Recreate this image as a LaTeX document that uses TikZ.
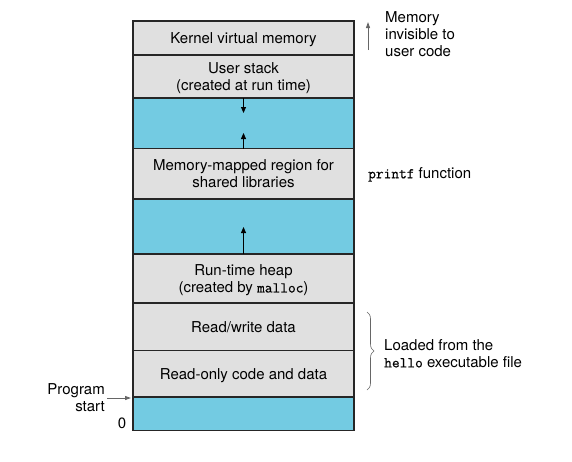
\documentclass[tikz,border=0pt]{standalone}
\usepackage{fontspec}
\setmainfont{TeX Gyre Heros}
\setmonofont{Latin Modern Mono}[FakeBold=0.6]
\usepackage{xcolor}
\usetikzlibrary{arrows.meta,decorations.pathreplacing}

\definecolor{memgray}{HTML}{E0E0E0}
\definecolor{memblue}{HTML}{73CBE2}

\tikzset{
  region/.style={draw=black!85, line width=1.8pt, fill=memgray, minimum width=221pt,
    inner sep=0pt, outer sep=0pt, align=center, text depth=0pt, font=\fontsize{15}{17}\selectfont},
  gap/.style={region, fill=memblue},
  growth/.style={-{Triangle[length=6pt,width=5pt]}, line width=0.8pt, black},
  note/.style={font=\fontsize{15}{17}\selectfont, inner sep=0pt},
  pointer/.style={-{Triangle[length=6pt,width=4pt]}, line width=0.9pt, black!60}
}

\begin{document}
\begin{tikzpicture}[x=1pt, y=-1pt]
            \useasboundingbox (0,0) rectangle (572,461);

            % address space, top to bottom
            \node[region, minimum height=34pt] (kernel) at (243.5,38) {Kernel virtual memory};
            \node[region, minimum height=43pt] (stack) at (243.5,76.5) {User stack\\(created at run time)};
            \node[gap, minimum height=50.5pt] (gapA) at (243.5,123.25) {};
            \node[region, minimum height=50.5pt] (mmap) at (243.5,173.75) {Memory-mapped region for\\shared libraries};
            \node[gap, minimum height=55pt] (gapB) at (243.5,226.5) {};
            \node[region, minimum height=49pt] (heap) at (243.5,278.5) {Run-time heap\\(created by \texttt{malloc})};
            \node[region, minimum height=47.5pt] (rwdata) at (243.5,326.75) {Read/write data};
            \node[region, minimum height=46.5pt] (rocode) at (243.5,373.75) {Read-only code and data};
            \node[gap, minimum height=33.5pt] (bottom) at (243.5,413.75) {};

            % growth arrows
            \coordinate (stacktip) at (243.5,113);
            \coordinate (mmaptip) at (243.5,133);
            \coordinate (heaptip) at (243.5,227);
            \draw[growth] (stack.south) -- (stacktip);
            \draw[growth] (mmap.north) -- (mmaptip);
            \draw[growth] (heap.north) -- (heaptip);

            % right hand labels
            \coordinate (invfoot) at (368,50);
            \coordinate (invhead) at (368,22);
            \draw[pointer] (invfoot) -- (invhead);
            \node[note, anchor=north west, align=left] (invisible) at (385,11) {Memory\\invisible to\\user code};
            \node[note, anchor=west] (printf) at (368,174.5) {\texttt{printf} function};

            \coordinate (bracetop) at (367,312);
            \coordinate (bracebot) at (367,390);
            \draw[black!60, line width=0.6pt, decorate, decoration={brace, amplitude=7pt}] (bracetop) -- (bracebot);
            \node[note, anchor=west, align=left] (loaded) at (384,353.5) {Loaded from the\\\texttt{hello} executable file};

            % left hand labels
            \node[note, anchor=east, align=right] (start) at (105,398) {Program\\start};
            \coordinate (starttip) at (131,398);
            \coordinate (starttail) at (107,398);
            \draw[pointer] (starttail) -- (starttip);
            \node[note] (zero) at (122,423) {0};
        \end{tikzpicture}
\end{document}
